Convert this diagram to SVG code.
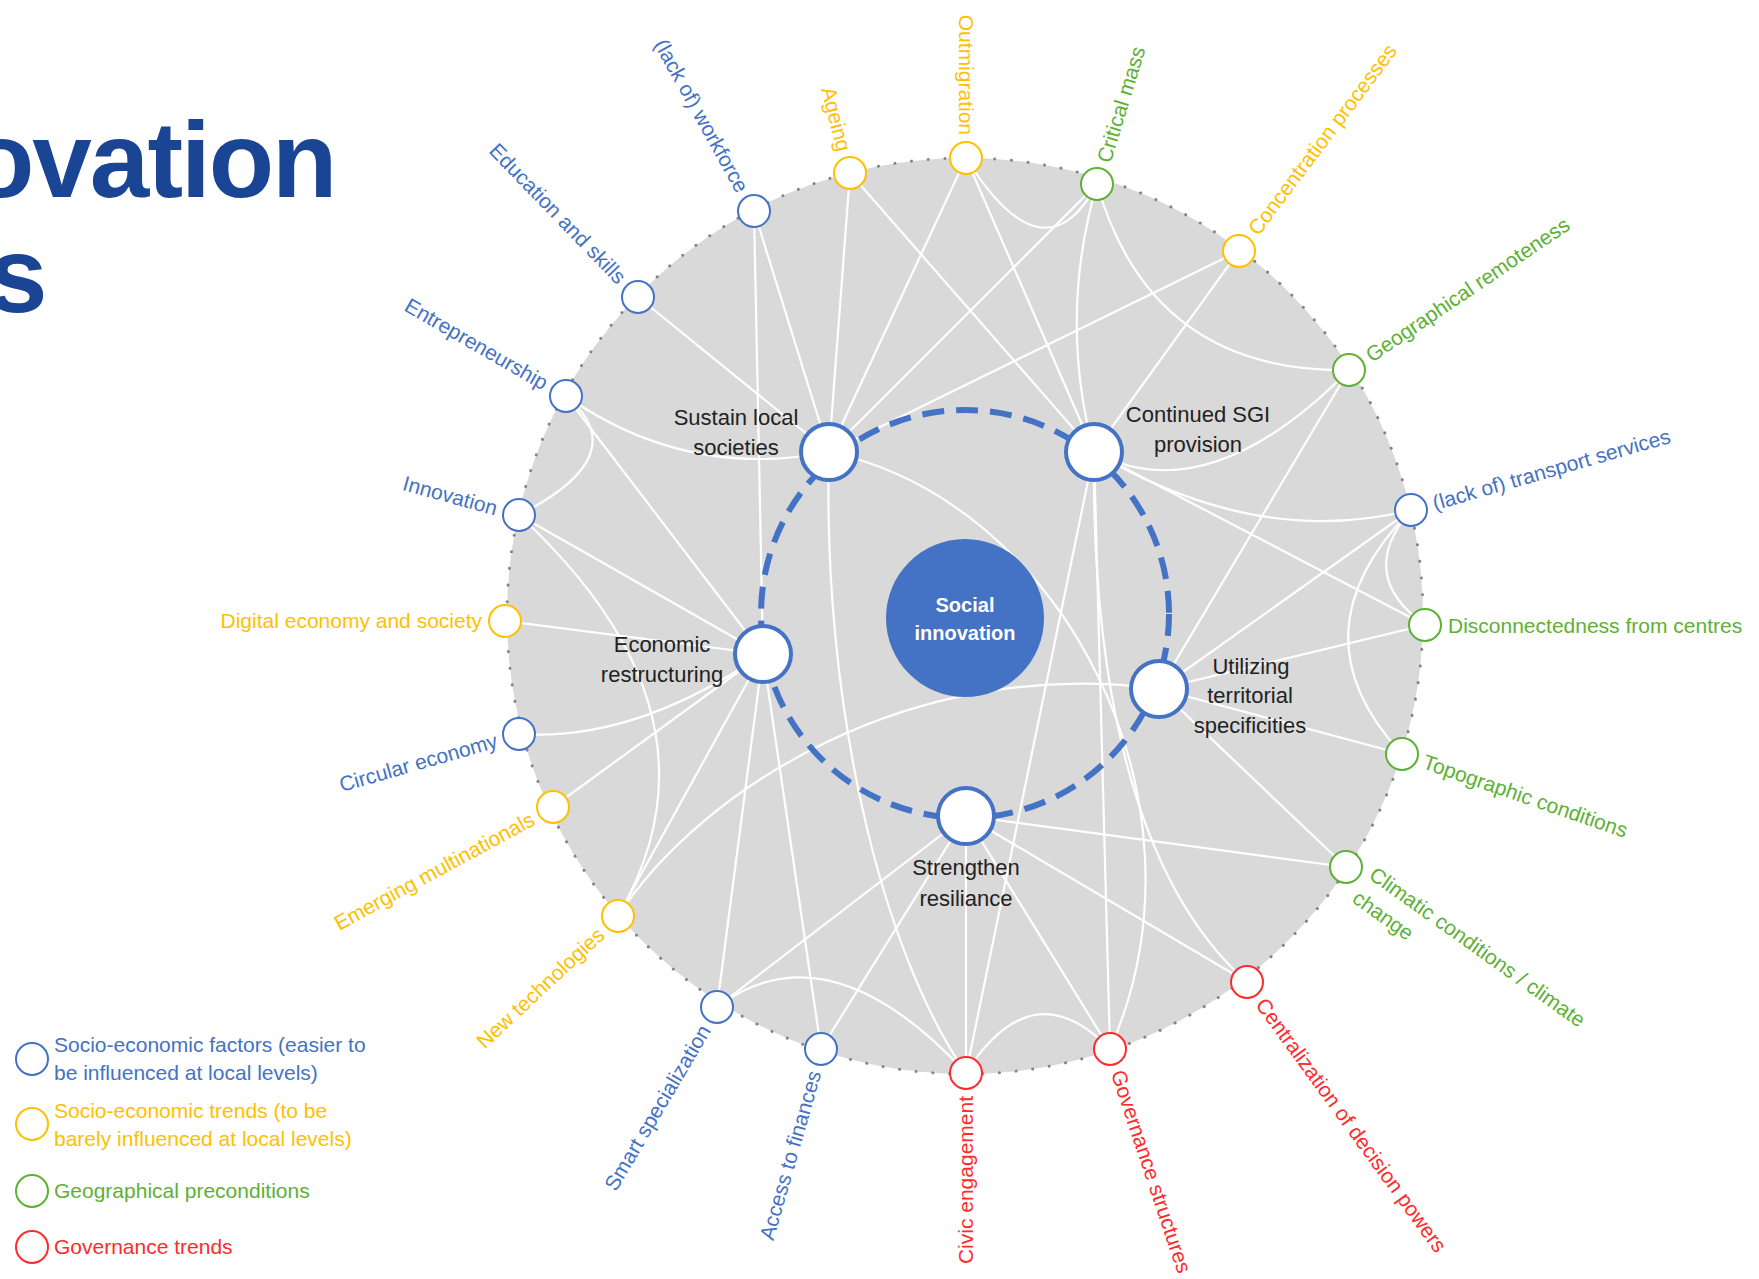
<svg xmlns="http://www.w3.org/2000/svg" width="1759" height="1279" viewBox="0 0 1759 1279">
<style>
.t{font-family:"Liberation Sans",Arial,sans-serif;font-size:21px}
.e{text-anchor:end}
.fb{fill:#4472C4}.fy{fill:#FFC000}.fg{fill:#5DB135}.fr{fill:#FF2B2B}
.on{fill:#fff;stroke-width:2}
.sb{stroke:#4472C4}.sy{stroke:#FFC000}.sg{stroke:#5DB135}.sr{stroke:#FF2B2B}
#connectors path{stroke:#fff;stroke-width:2.2;fill:none}
.in{fill:#fff;stroke:#4472C4;stroke-width:4}
.it{font-family:"Liberation Sans",Arial,sans-serif;font-size:22px;fill:#222;text-anchor:middle}
.title{font-family:"Liberation Sans",Arial,sans-serif;font-size:107px;font-weight:bold;fill:#1A4494;letter-spacing:-2px}
</style>
<rect width="1759" height="1279" fill="#fff"/>
<g id="title">
<text class="title" x="-31" y="197">ovation</text>
<text class="title" x="-12" y="312">s</text>
</g>
<g id="background">
<circle cx="965" cy="616" r="458" fill="#D9D9D9" stroke="#858585" stroke-width="3" stroke-dasharray="0.1 16.6" stroke-linecap="round"/>
</g>
<g id="connectors">
<path d="M754 211L829 452"/>
<path d="M754 211L763 654"/>
<path d="M850 173L829 452"/>
<path d="M850 173L1094 452"/>
<path d="M966 158L829 452"/>
<path d="M966 158L1094 452"/>
<path d="M1097 184L829 452"/>
<path d="M1239 251L829 452"/>
<path d="M1239 251L1094 452"/>
<path d="M1349 370L1159 689"/>
<path d="M1411 510L1159 689"/>
<path d="M1425 625L1159 689"/>
<path d="M1425 625L1094 452"/>
<path d="M1402 754L1159 689"/>
<path d="M1346 867L1159 689"/>
<path d="M1346 867L966 816"/>
<path d="M1247 982L966 816"/>
<path d="M1110 1049L966 816"/>
<path d="M1110 1049L1094 452"/>
<path d="M966 1073L966 816"/>
<path d="M966 1073L1094 452"/>
<path d="M821 1049L966 816"/>
<path d="M821 1049L763 654"/>
<path d="M717 1007L966 816"/>
<path d="M717 1007L763 654"/>
<path d="M618 916L763 654"/>
<path d="M553 807L763 654"/>
<path d="M505 621L763 654"/>
<path d="M519 515L763 654"/>
<path d="M566 396L763 654"/>
<path d="M638 297L829 452"/>
<path d="M966 158Q1044 283 1097 184"/>
<path d="M1097 184Q1058 318 1094 452"/>
<path d="M1097 184Q1151 373 1349 370"/>
<path d="M1349 370Q1208 513 1094 452"/>
<path d="M1411 510Q1257 549 1094 452"/>
<path d="M1411 510Q1355 575 1425 625"/>
<path d="M1411 510Q1290 634 1402 754"/>
<path d="M566 396Q686 480 829 452"/>
<path d="M566 396Q637 455 519 515"/>
<path d="M519 515Q735 715 618 916"/>
<path d="M763 654Q635 742 519 734"/>
<path d="M618 916C700 790 910 655 1159 689"/>
<path d="M829 452C1060 500 1220 800 1110 1049"/>
<path d="M1094 452C1092 640 1120 870 1247 982"/>
<path d="M829 452C822 700 880 950 966 1073"/>
<path d="M717 1007Q828 924 966 1073"/>
<path d="M966 1073Q1032 969 1110 1049"/>
</g>
<g id="ring">
<circle cx="965" cy="614" r="204" fill="none" stroke="#4472C4" stroke-width="6" stroke-dasharray="22 12"/>
</g>
<g id="social-innovation">
<circle cx="965" cy="618" r="79" fill="#4472C4"/>
<text x="965" y="612" font-family="Liberation Sans, Arial, sans-serif" font-size="20" font-weight="bold" fill="#fff" text-anchor="middle">Social</text>
<text x="965" y="640" font-family="Liberation Sans, Arial, sans-serif" font-size="20" font-weight="bold" fill="#fff" text-anchor="middle">innovation</text>
</g>
<g id="sustain-local-societies">
<circle class="in" cx="829" cy="452" r="28"/>
<text class="it" x="736" y="425">Sustain local</text>
<text class="it" x="736" y="455">societies</text>
</g>
<g id="continued-sgi-provision">
<circle class="in" cx="1094" cy="452" r="28"/>
<text class="it" x="1198" y="422">Continued SGI</text>
<text class="it" x="1198" y="452">provision</text>
</g>
<g id="economic-restructuring">
<circle class="in" cx="763" cy="654" r="28"/>
<text class="it" x="662" y="652">Economic</text>
<text class="it" x="662" y="682">restructuring</text>
</g>
<g id="utilizing-territorial-specificities">
<circle class="in" cx="1159" cy="689" r="28"/>
<text class="it" x="1251" y="674">Utilizing</text>
<text class="it" x="1250" y="703">territorial</text>
<text class="it" x="1250" y="733">specificities</text>
</g>
<g id="strengthen-resiliance">
<circle class="in" cx="966" cy="816" r="28"/>
<text class="it" x="966" y="875">Strengthen</text>
<text class="it" x="966" y="906">resiliance</text>
</g>
<g id="lack-of-workforce"><circle class="on sb" cx="754" cy="211" r="16"/><text class="t fb e" transform="translate(754 211) rotate(61)" x="-23" y="7">(lack of) workforce</text></g>
<g id="ageing"><circle class="on sy" cx="850" cy="173" r="16"/><text class="t fy e" transform="translate(850 173) rotate(75.4)" x="-23" y="7">Ageing</text></g>
<g id="outmigration"><circle class="on sy" cx="966" cy="158" r="16"/><text class="t fy e" transform="translate(966 158) rotate(90)" x="-23" y="7">Outmigration</text></g>
<g id="critical-mass"><circle class="on sg" cx="1097" cy="184" r="16"/><text class="t fg" transform="translate(1097 184) rotate(-73)" x="23" y="7">Critical mass</text></g>
<g id="concentration-processes"><circle class="on sy" cx="1239" cy="251" r="16"/><text class="t fy" transform="translate(1239 251) rotate(-53.1)" x="23" y="7">Concentration processes</text></g>
<g id="geographical-remoteness"><circle class="on sg" cx="1349" cy="370" r="16"/><text class="t fg" transform="translate(1349 370) rotate(-34)" x="23" y="7">Geographical remoteness</text></g>
<g id="lack-of-transport-services"><circle class="on sb" cx="1411" cy="510" r="16"/><text class="t fb" transform="translate(1411 510) rotate(-16)" x="23" y="7">(lack of) transport services</text></g>
<g id="disconnectedness-from-centres"><circle class="on sg" cx="1425" cy="625" r="16"/><text class="t fg" transform="translate(1425 625)" x="23" y="8">Disconnectedness from centres</text></g>
<g id="topographic-conditions"><circle class="on sg" cx="1402" cy="754" r="16"/><text class="t fg" transform="translate(1402 754) rotate(19)" x="23" y="7">Topographic conditions</text></g>
<g id="climatic-conditions"><circle class="on sg" cx="1346" cy="867" r="16"/><text class="t fg" transform="translate(1346 867) rotate(35.5)" x="24" y="-4">Climatic conditions / climate</text><text class="t fg" transform="translate(1346 867) rotate(35.5)" x="24" y="25">change</text></g>
<g id="centralization-of-decision-powers"><circle class="on sr" cx="1247" cy="982" r="16"/><text class="t fr" transform="translate(1247 982) rotate(54)" x="23" y="7">Centralization of decision powers</text></g>
<g id="governance-structures"><circle class="on sr" cx="1110" cy="1049" r="16"/><text class="t fr" transform="translate(1110 1049) rotate(71.5)" x="23" y="7">Governance structures</text></g>
<g id="civic-engagement"><circle class="on sr" cx="966" cy="1073" r="16"/><text class="t fr e" transform="translate(966 1073) rotate(-90)" x="-23" y="7">Civic engagement</text></g>
<g id="access-to-finances"><circle class="on sb" cx="821" cy="1049" r="16"/><text class="t fb e" transform="translate(821 1049) rotate(-74)" x="-23" y="7">Access to finances</text></g>
<g id="smart-specialization"><circle class="on sb" cx="717" cy="1007" r="16"/><text class="t fb e" transform="translate(717 1007) rotate(-59.5)" x="-23" y="7">Smart specialization</text></g>
<g id="new-technologies"><circle class="on sy" cx="618" cy="916" r="16"/><text class="t fy e" transform="translate(618 916) rotate(-43)" x="-23" y="7">New technologies</text></g>
<g id="emerging-multinationals"><circle class="on sy" cx="553" cy="807" r="16"/><text class="t fy e" transform="translate(553 807) rotate(-28.5)" x="-23" y="7">Emerging multinationals</text></g>
<g id="circular-economy"><circle class="on sb" cx="519" cy="734" r="16"/><text class="t fb e" transform="translate(519 734) rotate(-16)" x="-23" y="7">Circular economy</text></g>
<g id="digital-economy-and-society"><circle class="on sy" cx="505" cy="621" r="16"/><text class="t fy e" transform="translate(505 621)" x="-23" y="7">Digital economy and society</text></g>
<g id="innovation"><circle class="on sb" cx="519" cy="515" r="16"/><text class="t fb e" transform="translate(519 515) rotate(15.5)" x="-23" y="7">Innovation</text></g>
<g id="entrepreneurship"><circle class="on sb" cx="566" cy="396" r="16"/><text class="t fb e" transform="translate(566 396) rotate(30)" x="-23" y="7">Entrepreneurship</text></g>
<g id="education-and-skills"><circle class="on sb" cx="638" cy="297" r="16"/><text class="t fb e" transform="translate(638 297) rotate(46)" x="-23" y="7">Education and skills</text></g>
<g id="legend">
<circle class="on sb" cx="32" cy="1059" r="16"/>
<text class="t fb" x="54" y="1052">Socio-economic factors (easier to</text>
<text class="t fb" x="54" y="1080">be influenced at local levels)</text>
<circle class="on sy" cx="32" cy="1124" r="16"/>
<text class="t fy" x="54" y="1118">Socio-economic trends (to be</text>
<text class="t fy" x="54" y="1146">barely influenced at local levels)</text>
<circle class="on sg" cx="32" cy="1191" r="16"/>
<text class="t fg" x="54" y="1198">Geographical preconditions</text>
<circle class="on sr" cx="32" cy="1247" r="16"/>
<text class="t fr" x="54" y="1254">Governance trends</text>
</g>
</svg>
